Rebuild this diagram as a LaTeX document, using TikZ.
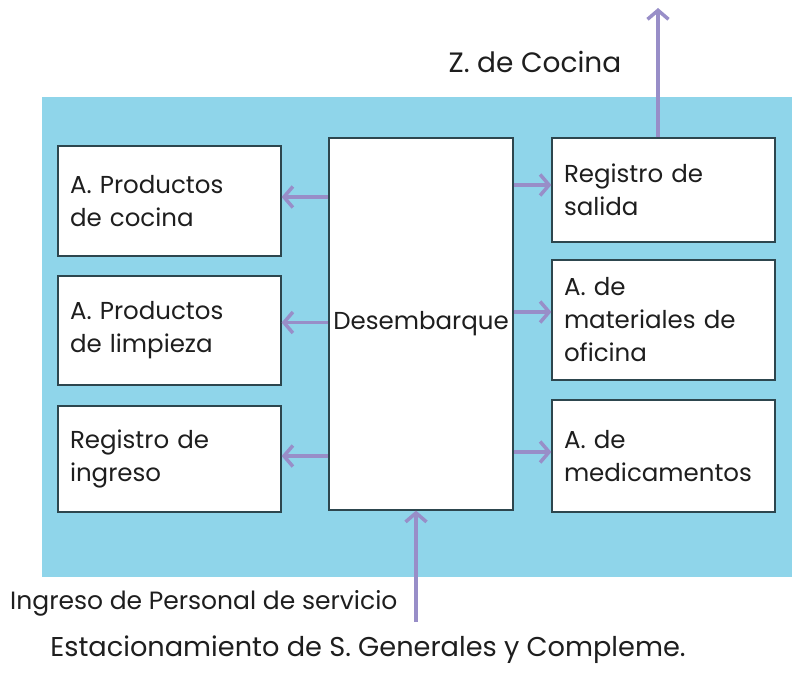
\documentclass[tikz,border=0pt]{standalone}
\usepackage{fontspec}
\setmainfont{Poppins}
\usepackage{tikz}
\usetikzlibrary{arrows.meta,positioning,calc}
\definecolor{zona}{RGB}{143,213,234}
\definecolor{flecha}{RGB}{152,142,200}
\definecolor{borde}{RGB}{45,70,78}
\definecolor{texto}{RGB}{30,30,30}
\tikzset{
    area/.style={draw=borde,fill=white,line width=1.2pt,minimum width=223pt,align=left,text width=199pt,inner sep=12pt,text=texto,font=\fontsize{24.5}{33}\selectfont},
    mainbox/.style={draw=borde,fill=white,line width=1.2pt,minimum width=184pt,minimum height=372pt,inner sep=2pt,text=texto,font=\fontsize{24.5}{33}\selectfont},
    flow/.style={-{Straight Barb[length=9pt,width=21pt,line width=3.5pt]},draw=flecha,line width=3.5pt},
    lbl/.style={font=\fontsize{25}{33}\selectfont,inner sep=0pt,text=texto},
}
\begin{document}
\begin{tikzpicture}[x=1pt,y=-1pt]
                \useasboundingbox (0,0) rectangle (794,685);
                \fill[zona] (42,97) rectangle (792,577);
                \node[mainbox] (des) at (421,324) {Desembarque};
                \node[area,minimum height=110pt] (cocina) at (169.5,201) {A. Productos\\de cocina};
                \node[area,minimum height=109pt] (limpieza) at (169.5,330.5) {A. Productos\\de limpieza};
                \node[area,minimum height=106pt] (ingreso) at (169.5,459) {Registro de\\ingreso};
                \node[area,minimum height=104pt] (salida) at (663.5,190) {Registro de\\salida};
                \node[area,minimum height=120pt] (oficina) at (663.5,320) {A. de\\materiales de\\oficina};
                \node[area,minimum height=112pt] (medic) at (663.5,456) {A. de\\medicamentos};
                \coordinate (cocinaz) at (658,8);
                \coordinate (parking) at (416,622);
                \node[lbl,font=\fontsize{28}{33}\selectfont] (zcocina) at (535,62) {Z. de Cocina};
                \node[lbl,anchor=west] (personal) at (10,603) {Ingreso de Personal de servicio};
                \node[lbl,font=\fontsize{27.2}{33}\selectfont] (estac) at (368,650) {Estacionamiento de S. Generales y Compleme.};
                \draw[flow] ([yshift=4]cocina.east -| des.west) -- ([yshift=4]cocina.east);
                \draw[flow] ([yshift=8]limpieza.east -| des.west) -- ([yshift=8]limpieza.east);
                \draw[flow] ([yshift=3]ingreso.east -| des.west) -- ([yshift=3]ingreso.east);
                \draw[flow] ([yshift=5]salida.west -| des.east) -- ([yshift=5]salida.west);
                \draw[flow] ([yshift=8]oficina.west -| des.east) -- ([yshift=8]oficina.west);
                \draw[flow] ([yshift=4]medic.west -| des.east) -- ([yshift=4]medic.west);
                \draw[flow] (cocinaz |- salida.north) -- (cocinaz);
                \draw[flow] (parking) -- (parking |- des.south);
\end{tikzpicture}
\end{document}
